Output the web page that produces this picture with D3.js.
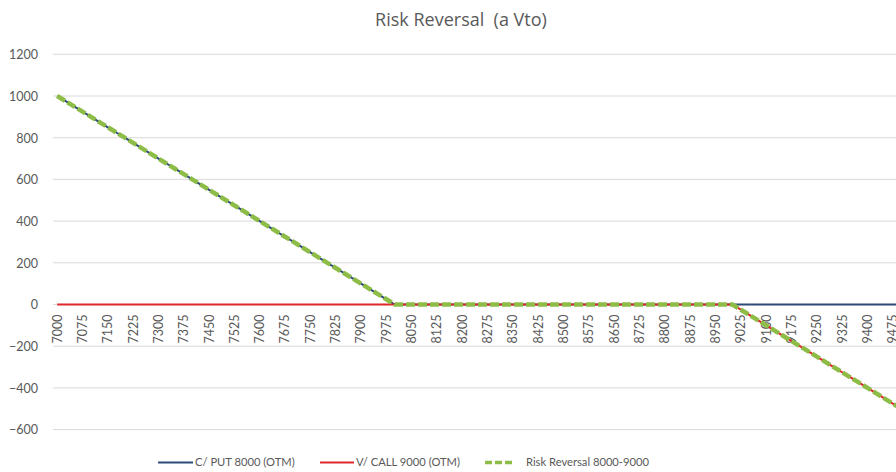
<!DOCTYPE html>
<html><head><meta charset="utf-8">
<script src="https://cdn.jsdelivr.net/npm/d3@7"></script>
<style>body{margin:0;background:#fff;overflow:hidden}svg{display:block}text{font-family:Lato,"Open Sans",sans-serif}</style>
</head><body><svg id="c" width="896" height="472"></svg>
<script>
// Data
const strikes = d3.range(7000, 9501, 25);               // underlying prices (categories)
const putValues = [1000,975,950,925,900,875,850,825,800,775,750,725,700,675,650,625,600,575,550,525,500,475,450,425,400,375,350,325,300,275,250,225,200,175,150,125,100,75,50,25,0,0,0,0,0,0,0,0,0,0,0,0,0,0,0,0,0,0,0,0,0,0,0,0,0,0,0,0,0,0,0,0,0,0,0,0,0,0,0,0,0,0,0,0,0,0,0,0,0,0,0,0,0,0,0,0,0,0,0,0,0];
const callValues = [0,0,0,0,0,0,0,0,0,0,0,0,0,0,0,0,0,0,0,0,0,0,0,0,0,0,0,0,0,0,0,0,0,0,0,0,0,0,0,0,0,0,0,0,0,0,0,0,0,0,0,0,0,0,0,0,0,0,0,0,0,0,0,0,0,0,0,0,0,0,0,0,0,0,0,0,0,0,0,0,0,-25,-50,-75,-100,-125,-150,-175,-200,-225,-250,-275,-300,-325,-350,-375,-400,-425,-450,-475,-500];
const rrValues = putValues.map((v, i) => v + callValues[i]);
const yTicks = [-600,-400,-200,0,200,400,600,800,1000,1200];
const seriesNames = ["C/ PUT 8000 (OTM)", "V/ CALL 9000 (OTM)", "Risk Reversal 8000-9000"];
const title = "Risk Reversal  (a Vto)";

const svg = d3.select("#c");
const left = 53, bandW = 8.44;
const x = d3.scaleBand().domain(strikes).range([left, left + bandW * strikes.length]);
const y = d3.scaleLinear().domain([-600, 1200]).range([429.6, 54.3]);

// gridlines
svg.append("g").selectAll("line").data(yTicks).join("line")
  .attr("x1", left).attr("x2", 896).attr("y1", d => y(d)).attr("y2", d => y(d))
  .attr("stroke", "#d9d9d9").attr("stroke-width", 1);

// y axis labels
const yAxis = d3.axisLeft(y).tickValues(yTicks).tickSize(0).tickPadding(0).tickFormat(d3.format("d"));
const gy = svg.append("g").attr("transform", "translate(38,0)").call(yAxis);
gy.select(".domain").remove();
gy.selectAll("text").attr("fill", "#595959").style("font-size", "12.5px").style("font-family", "Lato").attr("dy", "0.35em");

// x axis labels (every third)
const xAxis = d3.axisBottom(x).tickValues(strikes.filter((d, i) => i % 3 === 0)).tickSize(0).tickPadding(0);
const gx = svg.append("g").attr("transform", `translate(0,${y(0)})`).call(xAxis);
gx.select(".domain").remove();
gx.selectAll("text").attr("fill", "#595959").style("font-size", "12.5px").style("font-family", "Lato")
  .attr("text-anchor", "end").attr("transform", "rotate(-90)")
  .attr("x", -10).attr("y", 0).attr("dy", "0.35em");

const line = d3.line().x((d, i) => x(strikes[i]) + x.bandwidth() / 2).y(d => y(d));
svg.append("path").datum(putValues).attr("d", line).attr("fill", "none")
  .attr("stroke", "#2e4a76").attr("stroke-width", 2);
svg.append("path").datum(callValues).attr("d", line).attr("fill", "none")
  .attr("stroke", "#e0262a").attr("stroke-width", 2);
svg.append("path").datum(rrValues).attr("d", line).attr("fill", "none")
  .attr("stroke", "#8dbd47").attr("stroke-width", 4.5).attr("stroke-dasharray", "9,3");

// title
svg.append("text").attr("x", 461).attr("y", 26).attr("text-anchor", "middle")
  .attr("fill", "#595959").style("font-size", "18px").style("font-family", "'Open Sans'")
  .style("white-space", "pre").attr("xml:space", "preserve").text(title);

// legend
const legend = [
  {name: seriesNames[0], color: "#2e4a76", x1: 158, x2: 193, dash: null, w: 2},
  {name: seriesNames[1], color: "#e0262a", x1: 320, x2: 354, dash: null, w: 2},
  {name: seriesNames[2], color: "#8dbd47", x1: 485, x2: 512, dash: "7,3", w: 3.5}
];
const lg = svg.append("g");
legend.forEach(l => {
  lg.append("line").attr("x1", l.x1).attr("x2", l.x2).attr("y1", 462.5).attr("y2", 462.5)
    .attr("stroke", l.color).attr("stroke-width", l.w).attr("stroke-dasharray", l.dash);
  lg.append("text").attr("x", l.dash ? l.x2 + 14 : l.x2 + 2).attr("y", 462.5).attr("dy", "0.35em")
    .attr("fill", "#595959").style("font-size", "11.2px").text(l.name);
});
</script></body></html>
